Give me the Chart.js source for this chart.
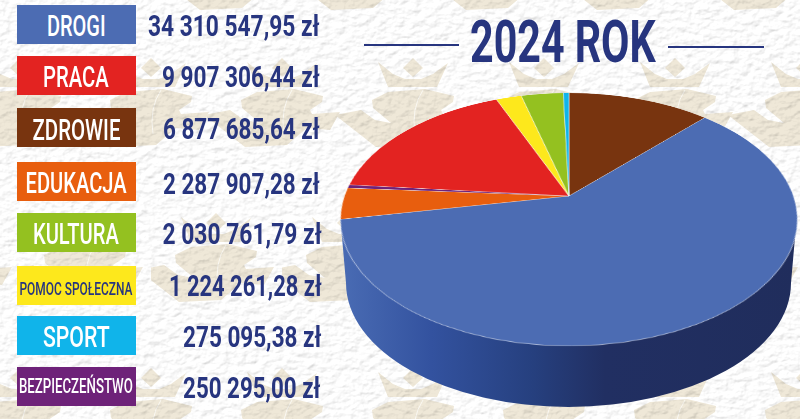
<!DOCTYPE html>
<html lang="pl">
<head>
<meta charset="utf-8">
<title>2024 ROK</title>
<script src="https://cdn.jsdelivr.net/npm/chart.js@4"></script>
<style>
html, body { margin: 0; padding: 0; }
body { width: 800px; height: 419px; overflow: hidden; position: relative; background: #f1f0ee; font-family: Roboto, sans-serif; }
#bg { position: absolute; left: 0; top: 0; }
#wall { position: absolute; left: 0; top: 0; }
#pieBox { position: absolute; left: 318.5px; top: -54px; width: 500px; height: 500px; transform-origin: 250px 250px; }
.box { position: absolute; left: 17px; width: 118.5px; height: 38.5px; display: flex; align-items: center; justify-content: center; color: #fff; }
.box span { display: inline-block; position: relative; white-space: nowrap; font-weight: 500; }
.amount { position: absolute; color: #27357f; font-weight: 700; font-size: 29.5px; line-height: 38px; white-space: nowrap; transform-origin: right center; }
#title { position: absolute; left: 470px; top: 7px; color: #27357f; font-weight: 700; font-size: 60px; line-height: 70px; white-space: nowrap; transform-origin: left center; }
.rule { position: absolute; height: 2px; background: #27357f; }
</style>
</head>
<body>
<svg id="bg" width="800" height="419" xmlns="http://www.w3.org/2000/svg">
  <defs>
    <filter id="paper" x="0" y="0" width="100%" height="100%">
      <feTurbulence type="fractalNoise" baseFrequency="0.11 0.16" numOctaves="4" seed="7" result="n"/>
      <feDiffuseLighting in="n" surfaceScale="1.0" lighting-color="#fff" result="l">
        <feDistantLight azimuth="235" elevation="62"/>
      </feDiffuseLighting>
      <feComponentTransfer in="l">
        <feFuncR type="linear" slope="1.3" intercept="-0.17"/>
        <feFuncG type="linear" slope="1.3" intercept="-0.17"/>
        <feFuncB type="linear" slope="1.3" intercept="-0.17"/>
      </feComponentTransfer>
    </filter>
    <g id="eagle">
      <path fill="#efe8d8" d="M-35 12L-20 24L-8 29L8 29L20 24L35 13L24 37L-25 37Z"/>
      <path fill="#efe8d8" d="M0 8L10 18L0 27L-10 18Z"/>
      <path fill="#efe8d8" d="M-78 65L-52 60L-38 70L-22 73L-40 58L-41 50L-25 42L12 39L41 46L40 52L28 60L30 64L58 62L48 80L25 78L5 95L-37 97Z"/>
      <path fill="none" stroke="#fbf9f3" stroke-width="1" d="M10 40Q-2 58 2 84"/>
    </g>
    <pattern id="eagles" x="20" y="50" width="131" height="310" patternUnits="userSpaceOnUse">
      <use href="#eagle" x="0" y="0"/>
      <use href="#eagle" x="131" y="0"/>
      <use href="#eagle" x="65" y="155"/>
      <use href="#eagle" x="-66" y="155"/>
    </pattern>
  </defs>
  <rect width="800" height="419" fill="#fff"/>
  <rect width="800" height="419" fill="url(#eagles)"/>
  <use href="#eagle" x="368" y="-87"/>
  <use href="#eagle" x="503" y="-87"/>
  <use href="#eagle" x="634" y="-87"/>
  <use href="#eagle" x="771" y="-87"/>
  <use href="#eagle" x="237" y="-87"/>
  <rect width="800" height="419" filter="url(#paper)" style="mix-blend-mode:multiply"/>
</svg>
<canvas id="wall" width="800" height="419"></canvas>
<div id="pieBox"><canvas id="pie" width="500" height="500"></canvas></div>
<div id="legend"></div>
<div class="rule" style="left:364px;top:44px;width:95px"></div>
<div class="rule" style="left:668px;top:46px;width:96px"></div>
<div id="title">2024 ROK</div>
<script>
/* dane */
const categories = ["DROGI", "PRACA", "ZDROWIE", "EDUKACJA", "KULTURA", "POMOC SPOŁECZNA", "SPORT", "BEZPIECZEŃSTWO"];
const values = [34310547.95, 9907306.44, 6877685.64, 2287907.28, 2030761.79, 1224261.28, 275095.38, 250295.00];
const colors = ["#4c6cb3", "#e32321", "#78340f", "#e85e0e", "#94c120", "#fde81c", "#10b4ea", "#6e2279"];
const textColors = ["#fff", "#fff", "#fff", "#fff", "#fff", "#27357f", "#fff", "#fff"];
/* kolejność wycinków na kole, od godziny 12 w prawo */
const pieOrder = [2, 0, 3, 7, 1, 5, 4, 6];

/* układ legendy */
const boxTops = [5, 56, 108, 162, 213, 266, 316, 367];
const labelShifts = [2, 2, 3, 2, 2, 3, 2, 0];
const labelWidths = [59, 66, 88, 101, 86, 113, 67, 114];
const labelFonts = [29.5, 29.5, 29.5, 29.5, 29.5, 19, 29.5, 19.5];
const amountCenters = [26, 77, 129, 184, 234, 286, 337, 388];
const amountRights = [320, 320, 320, 320, 322, 322, 321, 320];
const amountWidths = [172, 158, 157, 157, 159.5, 153, 138, 137];

function formatAmount(v) {
    const [whole, dec] = v.toFixed(2).split(".");
    return whole.replace(/\B(?=(\d{3})+$)/g, " ") + "," + dec + " zł";
}

/* legenda */
const legend = document.getElementById("legend");
categories.forEach((name, i) => {
    const box = document.createElement("div");
    box.className = "box";
    box.style.top = boxTops[i] + "px";
    box.style.background = colors[i];
    box.style.color = textColors[i];
    const label = document.createElement("span");
    label.textContent = name;
    label.style.fontSize = labelFonts[i] + "px";
    label.style.top = labelShifts[i] + "px";
    box.appendChild(label);
    legend.appendChild(box);
    label.style.transform = "scaleX(" + labelWidths[i] / label.offsetWidth + ")";

    const amount = document.createElement("div");
    amount.className = "amount";
    amount.style.top = amountCenters[i] - 19 + "px";
    amount.style.right = 800 - amountRights[i] + "px";
    amount.textContent = formatAmount(values[i]);
    legend.appendChild(amount);
    amount.style.transform = "scaleX(" + amountWidths[i] / amount.offsetWidth + ")";
});

const title = document.getElementById("title");
title.style.transform = "scaleX(" + 186 / title.offsetWidth + ")";

/* boczna ściana koła */
function drawWall() {
    const ctx = document.getElementById("wall").getContext("2d");
    const g = ctx.createLinearGradient(340, 0, 797, 0);
    g.addColorStop(0, "#4a6cb4");
    g.addColorStop(0.2, "#33529f");
    g.addColorStop(0.42, "#26407f");
    g.addColorStop(0.58, "#212f62");
    g.addColorStop(1, "#202d5c");
    ctx.fillStyle = g;
    ctx.beginPath();
    ctx.moveTo(340.5, 220);
    ctx.lineTo(346, 283);
    ctx.ellipse(568.5, 283, 222.5, 124, 0, Math.PI, 0, true);
    ctx.lineTo(796.5, 220);
    ctx.closePath();
    ctx.fill();
}
drawWall();

/* perspektywa górnej powierzchni koła */
const R = 250, tilt = 0.1857, sx = 225, sy = 122.4;
document.getElementById("pieBox").style.transform =
    "matrix3d(" + [sx / R, 0, 0, 0, 0, sy / R, 0, -tilt / R, 0, 0, 1, 0, 0, 0, 0, 1].join(",") + ")";

new Chart(document.getElementById("pie"), {
    type: "pie",
    data: {
        labels: pieOrder.map(i => categories[i]),
        datasets: [{
            data: pieOrder.map(i => values[i]),
            backgroundColor: pieOrder.map(i => colors[i]),
            borderColor: "rgba(255,255,255,0.55)",
            borderWidth: 1
        }]
    },
    options: {
        responsive: false,
        animation: false,
        layout: { padding: 0 },
        plugins: { legend: { display: false }, tooltip: { enabled: false } }
    }
});
</script>
</body>
</html>
